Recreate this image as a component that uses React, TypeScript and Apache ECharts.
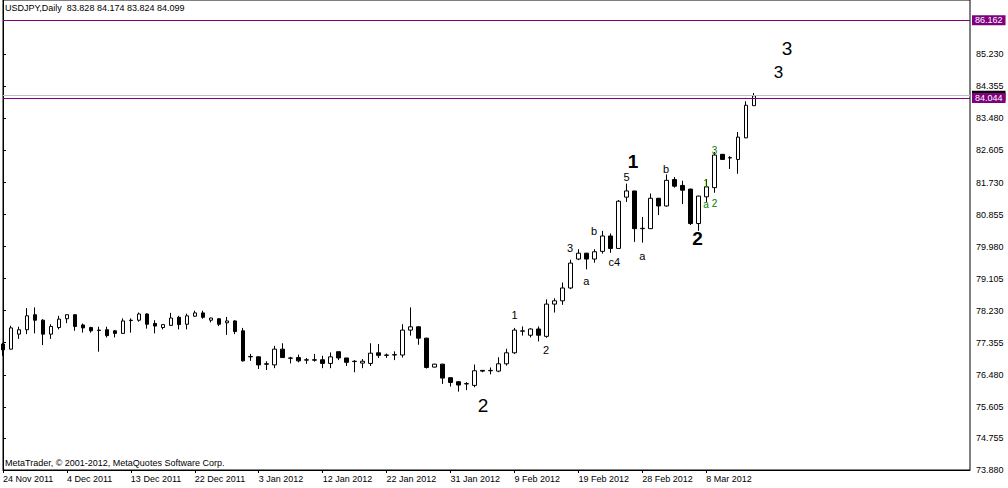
import React, { useEffect, useRef } from "react";
import * as echarts from "echarts";

const dates = [
  "24 Nov 2011", "25 Nov 2011", "27 Nov 2011", "28 Nov 2011", "29 Nov 2011", "30 Nov 2011", "1 Dec 2011", "2 Dec 2011",
  "4 Dec 2011", "5 Dec 2011", "6 Dec 2011", "7 Dec 2011", "8 Dec 2011", "9 Dec 2011", "11 Dec 2011", "12 Dec 2011",
  "13 Dec 2011", "14 Dec 2011", "15 Dec 2011", "16 Dec 2011", "18 Dec 2011", "19 Dec 2011", "20 Dec 2011", "21 Dec 2011",
  "22 Dec 2011", "23 Dec 2011", "26 Dec 2011", "27 Dec 2011", "28 Dec 2011", "29 Dec 2011", "30 Dec 2011", "2 Jan 2012",
  "3 Jan 2012", "4 Jan 2012", "5 Jan 2012", "6 Jan 2012", "8 Jan 2012", "9 Jan 2012", "10 Jan 2012", "11 Jan 2012",
  "12 Jan 2012", "13 Jan 2012", "15 Jan 2012", "16 Jan 2012", "17 Jan 2012", "18 Jan 2012", "19 Jan 2012", "20 Jan 2012",
  "22 Jan 2012", "23 Jan 2012", "24 Jan 2012", "25 Jan 2012", "26 Jan 2012", "27 Jan 2012", "29 Jan 2012", "30 Jan 2012",
  "31 Jan 2012", "1 Feb 2012", "2 Feb 2012", "3 Feb 2012", "5 Feb 2012", "6 Feb 2012", "7 Feb 2012", "8 Feb 2012",
  "9 Feb 2012", "10 Feb 2012", "12 Feb 2012", "13 Feb 2012", "14 Feb 2012", "15 Feb 2012", "16 Feb 2012", "17 Feb 2012",
  "19 Feb 2012", "20 Feb 2012", "21 Feb 2012", "22 Feb 2012", "23 Feb 2012", "24 Feb 2012", "26 Feb 2012", "27 Feb 2012",
  "28 Feb 2012", "29 Feb 2012", "1 Mar 2012", "2 Mar 2012", "4 Mar 2012", "5 Mar 2012", "6 Mar 2012", "7 Mar 2012",
  "8 Mar 2012", "9 Mar 2012", "11 Mar 2012", "12 Mar 2012", "13 Mar 2012", "14 Mar 2012", "15 Mar 2012",
];

const opens = [
  77.32, 77.18, 77.59, 77.71, 78.12, 77.97, 77.59, 77.77, 78.01, 78.12,
  77.84, 77.77, 77.69, 77.71, 77.68, 77.61, 77.96, 77.97, 78.14, 77.88,
  77.77, 77.83, 78.05, 77.86, 78.08, 78.17, 77.97, 78.01, 77.90, 77.95,
  77.68, 76.97, 76.97, 76.78, 76.75, 77.18, 76.93, 76.95, 76.88, 76.89,
  76.89, 76.79, 77.11, 76.94, 76.84, 76.80, 76.79, 77.08, 77.01, 77.02,
  77.02, 77.70, 77.79, 77.48, 76.69, 76.77, 76.40, 76.29, 76.23, 76.19,
  76.60, 76.59, 76.58, 76.78, 77.08, 77.67, 77.56, 77.73, 77.53, 78.41,
  78.50, 78.85, 79.64, 79.80, 79.64, 79.85, 80.27, 79.93, 81.33, 81.50,
  80.47, 80.47, 81.30, 81.09, 81.81, 81.65, 81.55, 80.61, 81.34, 81.59,
  82.50, 82.40, 82.36, 82.95, 83.828,
];

const closes = [
  77.16, 77.76, 77.71, 78.09, 77.97, 77.59, 77.80, 78.00, 78.12, 77.80,
  77.76, 77.68, 77.70, 77.55, 77.61, 77.95, 77.97, 78.14, 77.86, 77.81,
  77.85, 78.03, 77.85, 78.09, 78.17, 78.05, 78.03, 77.86, 77.95, 77.66,
  76.86, 76.98, 76.75, 76.77, 77.18, 76.95, 76.94, 76.86, 76.89, 76.88,
  76.79, 76.97, 76.94, 76.82, 76.85, 76.85, 77.07, 77.01, 77.02, 77.03,
  77.70, 77.79, 77.48, 76.68, 76.77, 76.39, 76.27, 76.20, 76.24, 76.59,
  76.58, 76.60, 76.78, 77.08, 77.70, 77.68, 77.73, 77.56, 78.41, 78.50,
  78.85, 79.53, 79.80, 79.64, 79.84, 80.27, 79.93, 81.22, 81.50, 80.47,
  80.48, 81.30, 81.09, 81.79, 81.63, 81.52, 80.61, 81.36, 81.61, 82.48,
  82.36, 82.41, 82.97, 83.84, 84.099,
];

const lows = [
  77.00, 77.17, 77.46, 77.59, 77.61, 77.29, 77.46, 77.72, 77.89, 77.68,
  77.63, 77.63, 77.11, 77.50, 77.50, 77.60, 77.63, 77.93, 77.74, 77.61,
  77.72, 77.81, 77.72, 77.72, 78.06, 78.01, 77.91, 77.81, 77.57, 77.59,
  76.84, 76.86, 76.64, 76.61, 76.66, 76.94, 76.79, 76.82, 76.78, 76.84,
  76.66, 76.66, 76.88, 76.72, 76.55, 76.66, 76.72, 76.94, 76.94, 76.88,
  76.95, 77.55, 77.30, 76.65, 76.68, 76.23, 76.16, 76.02, 76.06, 76.14,
  76.55, 76.49, 76.55, 76.73, 77.05, 77.55, 77.50, 77.39, 77.49, 78.18,
  78.39, 78.82, 79.61, 79.36, 79.54, 79.79, 79.81, 79.93, 81.20, 80.11,
  80.09, 80.46, 80.84, 81.07, 81.59, 81.14, 80.57, 80.41, 81.20, 81.45,
  82.35, 82.10, 81.97, 82.94, 83.824,
];

const highs = [
  77.35, 77.82, 77.79, 78.30, 78.32, 78.00, 77.86, 78.09, 78.13, 78.13,
  77.88, 77.79, 77.79, 77.79, 77.70, 78.02, 78.02, 78.18, 78.16, 77.97,
  77.86, 78.17, 78.09, 78.15, 78.23, 78.23, 78.04, 78.02, 78.06, 77.97,
  77.76, 77.05, 76.98, 76.85, 77.27, 77.34, 76.97, 77.03, 76.94, 77.05,
  77.00, 77.09, 77.11, 76.94, 76.88, 76.91, 77.34, 77.32, 77.06, 77.12,
  77.86, 78.32, 77.80, 77.49, 76.78, 76.78, 76.41, 76.31, 76.28, 76.76,
  76.61, 76.68, 76.96, 77.19, 77.76, 77.80, 77.75, 77.80, 78.54, 78.57,
  79.00, 79.62, 79.91, 79.81, 79.91, 80.41, 80.34, 81.25, 81.70, 81.50,
  80.79, 81.43, 81.31, 81.95, 81.88, 81.78, 81.56, 81.37, 81.82, 82.56,
  82.51, 82.45, 83.11, 83.95, 84.174,
];

const yTickValues = [
  73.88, 74.755, 75.605, 76.48, 77.355, 78.23, 79.105, 79.98, 80.855, 81.73, 82.605, 83.48, 84.355, 85.23,
];

const bidPrice = 84.099;
const levelLow = 84.044;
const levelHigh = 86.162;

// wave labels: text, bar position, price
const waveTexts = ["1", "5", "b", "a", "c4", "b", "2", "3", "a", "1", "2", "2", "3", "3", "3", "1", "a", "2"];
const waveBars = [78.85, 78.04, 82.96, 80.0, 76.5, 73.95, 86.9, 70.95, 73.0, 64.0, 67.94, 60.06, 98.1, 97.03, 89.03, 87.96, 87.96, 89.03];
const wavePrices = [82.31, 81.89, 82.11, 79.72, 79.56, 80.41, 80.2, 79.93, 79.04, 78.1, 77.16, 75.64, 85.39, 84.74, 82.6, 81.71, 81.13, 81.17];
const waveSizes = [19, 11, 11, 11, 11, 11, 19, 11, 11, 11, 11, 19, 19, 17, 10, 10, 10, 10];
const waveBold = [true, false, false, false, false, false, true, false, false, false, false, false, false, false, false, false, false, false];
const waveColors = ["#000", "#000", "#000", "#000", "#000", "#000", "#000", "#000", "#000", "#000", "#000", "#000", "#000", "#000", "#008000", "#008000", "#008000", "#008000"];

const headerText = "USDJPY,Daily  83.828 84.174 83.824 84.099";
const footerText = "MetaTrader, \u00a9 2001-2012, MetaQuotes Software Corp.";

export default function App() {
  const ref = useRef<HTMLDivElement>(null);
  useEffect(() => {
    const chart = echarts.init(ref.current!, null, { renderer: "svg" });
    const total = 122;
    const categories = dates.concat(
      Array.from({ length: total - dates.length }, (_, k) => `pad${k}`)
    );
    const candles = dates.map((_, i) => [opens[i], closes[i], lows[i], highs[i]]);
    const font = "Liberation Sans";
    const showIdx = (i: number) => i % 8 === 0 && i < dates.length;
    const priceLabel = (bg: string, value: number) => ({
      show: true,
      position: "end",
      distance: 2,
      backgroundColor: bg,
      color: "#fff",
      fontSize: 9,
      fontFamily: font,
      lineHeight: 10,
      padding: [0, 3, 0, 3],
      formatter: value.toFixed(3),
    });
    chart.setOption({
      animation: false,
      backgroundColor: "#ffffff",
      grid: {
        left: 3,
        right: 38,
        top: -1,
        bottom: 18,
        show: true,
        borderColor: "#000",
        borderWidth: 1,
        backgroundColor: "#fff",
      },
      xAxis: [
        {
          type: "category",
          data: categories,
          boundaryGap: false,
          axisLine: { show: true, lineStyle: { color: "#000", width: 1 } },
          axisTick: { show: true, length: 3, interval: showIdx, lineStyle: { color: "#000" } },
          axisLabel: {
            interval: showIdx,
            align: "left",
            margin: 4,
            fontSize: 9,
            fontFamily: font,
            color: "#000",
          },
          splitLine: { show: false },
        },
        { type: "value", min: 0, max: total - 1, show: false },
      ],
      yAxis: {
        type: "value",
        position: "right",
        min: 73.88,
        max: 86.714,
        axisLine: { show: true, lineStyle: { color: "#000", width: 1 } },
        axisTick: { show: true, length: 3, customValues: yTickValues, lineStyle: { color: "#000" } },
        axisLabel: {
          customValues: yTickValues,
          formatter: (v: number) => v.toFixed(3),
          margin: 6,
          fontSize: 9,
          fontFamily: font,
          color: "#000",
        },
        splitLine: { show: false },
      },
      series: [
        {
          type: "candlestick",
          data: candles,
          barWidth: 4,
          clip: true,
          itemStyle: {
            color: "#ffffff",
            color0: "#000000",
            borderColor: "#000000",
            borderColor0: "#000000",
            borderColorDoji: "#000000",
            borderWidth: 1,
          },
          z: 3,
        },
        {
          type: "scatter",
          data: [],
          clip: false,
          silent: true,
          markLine: {
            silent: true,
            symbol: ["none", "none"],
            animation: false,
            data: [
              { yAxis: bidPrice, lineStyle: { color: "#c0c0c0", type: "solid", width: 1 }, label: priceLabel("#000", bidPrice) },
              { yAxis: levelLow, lineStyle: { color: "#800080", type: "solid", width: 1 }, label: priceLabel("#800080", levelLow) },
              { yAxis: levelHigh, lineStyle: { color: "#800080", type: "solid", width: 1 }, label: priceLabel("#800080", levelHigh) },
            ],
          },
          z: 4,
        },
      ],
    });

    const waveGraphics = waveTexts.map((t, i) => {
      const p = chart.convertToPixel({ xAxisIndex: 1, yAxisIndex: 0 }, [waveBars[i], wavePrices[i]]) as number[];
      return {
        type: "text",
        x: p[0],
        y: p[1],
        silent: true,
        z: 20,
        style: {
          text: t,
          fontSize: waveSizes[i],
          fontWeight: waveBold[i] ? "bold" : "normal",
          fontFamily: font,
          fill: waveColors[i],
          align: "center",
          verticalAlign: "middle",
        },
      };
    });

    chart.setOption({
      graphic: [
        {
          type: "text",
          left: 5,
          top: 3,
          silent: true,
          style: { text: headerText, fontSize: 9, fontFamily: font, fill: "#000" },
          z: 20,
        },
        {
          type: "text",
          left: 5,
          top: 458,
          silent: true,
          style: { text: footerText, fontSize: 9, fontFamily: font, fill: "#000" },
          z: 20,
        },
        ...waveGraphics,
      ],
    });
    return () => chart.dispose();
  }, []);
  return (
    <div
      ref={ref}
      style={{ position: "fixed", left: 0, top: 0, width: 1008, height: 488, background: "#fff" }}
    />
  );
}
